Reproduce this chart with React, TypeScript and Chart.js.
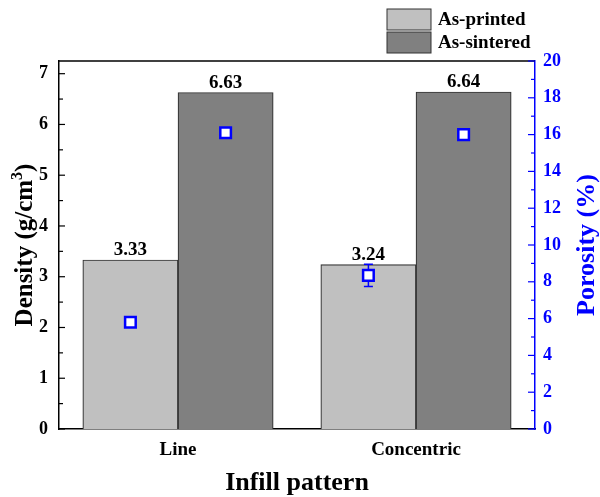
import React, { useEffect, useRef } from 'react';
import { Chart, registerables } from 'chart.js';

Chart.register(...registerables);

const FONT = "'Liberation Serif', 'Times New Roman', serif";
const BLUE = '#0000ff';

const CATEGORIES = ['Line', 'Concentric'];
const SERIES_LABELS = ['As-printed', 'As-sintered'];
const DENSITY_PRINTED = [3.33, 3.24];
const DENSITY_SINTERED = [6.63, 6.64];
const POROSITY_PRINTED = [5.8, 8.35];
const POROSITY_PRINTED_ERR = [0.15, 0.6];
const POROSITY_SINTERED = [16.1, 16.0];
const POROSITY_SINTERED_ERR = [0.15, 0.15];
const DENSITY_TICKS = [0, 1, 2, 3, 4, 5, 6, 7];
const POROSITY_TICKS = [0, 2, 4, 6, 8, 10, 12, 14, 16, 18, 20];

const BAR_COLORS = ['#c0c0c0', '#808080'];
const GROUP_WIDTH = 0.8; // share of a category slot taken by its bar group
const N_SERIES = 2;

// x position (in category units) of series j within category i
const slotX = (i: number, j: number) => i + (j - (N_SERIES - 1) / 2) * GROUP_WIDTH / N_SERIES;

const toPoints = (values: number[], j: number) => values.map((v, i) => ({ x: slotX(i, j), y: v }));

const ERRORS: Record<number, number[]> = { 2: POROSITY_PRINTED_ERR, 3: POROSITY_SINTERED_ERR };

const errorBars = {
  id: 'errorBars',
  beforeDatasetDraw(chart: any, args: any) {
    const errs = ERRORS[args.index];
    if (!errs) return;
    const ctx = chart.ctx;
    const y1 = chart.scales.y1;
    const meta = chart.getDatasetMeta(args.index);
    const ds = chart.data.datasets[args.index];
    ctx.save();
    ctx.strokeStyle = BLUE;
    ctx.lineWidth = 1.5;
    meta.data.forEach((pt: any, i: number) => {
      const v = ds.data[i].y;
      const top = y1.getPixelForValue(v + errs[i]);
      const bot = y1.getPixelForValue(v - errs[i]);
      ctx.beginPath();
      ctx.moveTo(pt.x, top);
      ctx.lineTo(pt.x, bot);
      ctx.moveTo(pt.x - 4.5, top);
      ctx.lineTo(pt.x + 4.5, top);
      ctx.moveTo(pt.x - 4.5, bot);
      ctx.lineTo(pt.x + 4.5, bot);
      ctx.stroke();
    });
    ctx.restore();
  },
};

const barLabels = {
  id: 'barLabels',
  afterDatasetsDraw(chart: any) {
    const ctx = chart.ctx;
    ctx.save();
    ctx.font = `bold 19px ${FONT}`;
    ctx.fillStyle = '#000';
    ctx.textAlign = 'center';
    ctx.textBaseline = 'bottom';
    [0, 1].forEach((di) => {
      const meta = chart.getDatasetMeta(di);
      const ds = chart.data.datasets[di];
      meta.data.forEach((bar: any, i: number) => {
        ctx.fillText(ds.data[i].y.toFixed(2), bar.x, bar.y);
      });
    });
    ctx.restore();
  },
};

const frame = {
  id: 'frame',
  afterDraw(chart: any) {
    const ctx = chart.ctx;
    const { left, right, top, bottom } = chart.chartArea;
    const y = chart.scales.y;
    const y1 = chart.scales.y1;
    ctx.save();

    // top border
    ctx.strokeStyle = '#000';
    ctx.lineWidth = 1.5;
    ctx.beginPath();
    ctx.moveTo(left, top);
    ctx.lineTo(right, top);
    ctx.stroke();

    // inward tick marks, majors and minors
    ctx.lineWidth = 1.2;
    for (let v = 0; v <= 7.001; v += 0.5) {
      const py = y.getPixelForValue(v);
      const len = Number.isInteger(v) ? 6 : 4;
      ctx.beginPath();
      ctx.moveTo(left, py);
      ctx.lineTo(left + len, py);
      ctx.stroke();
    }
    ctx.strokeStyle = BLUE;
    for (let v = 0; v <= 20; v += 1) {
      const py = y1.getPixelForValue(v);
      const len = v % 2 === 0 ? 7 : 4;
      ctx.beginPath();
      ctx.moveTo(right, py);
      ctx.lineTo(right - len, py);
      ctx.stroke();
    }

    const midY = (top + bottom) / 2;

    // x title
    ctx.fillStyle = '#000';
    ctx.font = `bold 26px ${FONT}`;
    ctx.textAlign = 'center';
    ctx.textBaseline = 'alphabetic';
    ctx.fillText('Infill pattern', (left + right) / 2, 490);

    // left title with superscript
    ctx.save();
    ctx.translate(32, midY);
    ctx.rotate(-Math.PI / 2);
    const big = `bold 25px ${FONT}`;
    const small = `bold 16px ${FONT}`;
    const a = 'Density (g/cm';
    const s = '3';
    const b = ')';
    ctx.font = big;
    const wa = ctx.measureText(a).width;
    const wb = ctx.measureText(b).width;
    ctx.font = small;
    const ws = ctx.measureText(s).width;
    const x0 = -(wa + ws + wb) / 2;
    ctx.textAlign = 'left';
    ctx.font = big;
    ctx.fillText(a, x0, 0);
    ctx.font = small;
    ctx.fillText(s, x0 + wa, -10);
    ctx.font = big;
    ctx.fillText(b, x0 + wa + ws, 0);
    ctx.restore();

    // right title
    ctx.save();
    ctx.translate(594, midY);
    ctx.rotate(-Math.PI / 2);
    ctx.fillStyle = BLUE;
    ctx.font = `bold 26px ${FONT}`;
    ctx.textAlign = 'center';
    ctx.fillText('Porosity (%)', 0, 0);
    ctx.restore();

    // legend
    ctx.font = `bold 19px ${FONT}`;
    ctx.textAlign = 'left';
    ctx.textBaseline = 'middle';
    SERIES_LABELS.forEach((label, i) => {
      const by = 9 + i * 23;
      ctx.fillStyle = BAR_COLORS[i];
      ctx.fillRect(387, by, 44, 21);
      ctx.strokeStyle = '#333';
      ctx.lineWidth = 1;
      ctx.strokeRect(387, by, 44, 21);
      ctx.fillStyle = '#000';
      ctx.fillText(label, 438, by + 11);
    });

    ctx.restore();
  },
};

const barDataset = (j: number, values: number[]) => ({
  type: 'bar',
  label: SERIES_LABELS[j],
  data: toPoints(values, j),
  backgroundColor: BAR_COLORS[j],
  borderColor: '#333',
  borderWidth: 1.2,
  grouped: false,
  categoryPercentage: 1,
  barPercentage: 1,
  yAxisID: 'y',
  order: 2,
});

const porosityDataset = (j: number, values: number[]) => ({
  type: 'scatter',
  label: `Porosity ${SERIES_LABELS[j]}`,
  data: toPoints(values, j),
  yAxisID: 'y1',
  pointStyle: 'rect',
  radius: 7.5,
  borderWidth: 2.5,
  borderColor: BLUE,
  backgroundColor: '#fff',
  order: 0,
});

export default function App() {
  const ref = useRef<HTMLCanvasElement>(null);

  useEffect(() => {
    const chart = new Chart(ref.current!, {
      type: 'bar',
      data: {
        datasets: [
          barDataset(0, DENSITY_PRINTED),
          barDataset(1, DENSITY_SINTERED),
          porosityDataset(0, POROSITY_PRINTED),
          porosityDataset(1, POROSITY_SINTERED),
        ] as any,
      },
      options: {
        responsive: false,
        animation: false,
        layout: { padding: { top: 61, left: 0, right: 0, bottom: 0 } },
        plugins: { legend: { display: false }, tooltip: { enabled: false } },
        scales: {
          x: {
            type: 'linear',
            min: -0.5,
            max: CATEGORIES.length - 0.5,
            offset: false,
            grid: { display: false, drawTicks: false, offset: false },
            border: { display: true, color: '#000', width: 1.5 },
            afterBuildTicks: (s: any) => { s.ticks = CATEGORIES.map((_, i) => ({ value: i })); },
            ticks: {
              color: '#000',
              padding: 10,
              font: { family: FONT, size: 19, weight: 'bold' },
              callback: (v: any) => CATEGORIES[Math.round(v)] ?? '',
            },
            afterFit: (s: any) => { s.height = 68; },
          },
          y: {
            position: 'left',
            min: 0,
            max: 7.25,
            grid: { display: false, drawTicks: false },
            border: { display: true, color: '#000', width: 1.5 },
            ticks: { color: '#000', padding: 11, font: { family: FONT, size: 18, weight: 'bold' } },
            afterBuildTicks: (s: any) => { s.ticks = DENSITY_TICKS.map((v) => ({ value: v })); },
            afterFit: (s: any) => { s.width = 59; },
          },
          y1: {
            position: 'right',
            min: 0,
            max: 20,
            grid: { display: false, drawTicks: false },
            border: { display: true, color: BLUE, width: 1.5 },
            ticks: { color: BLUE, padding: 8, font: { family: FONT, size: 18, weight: 'bold' } },
            afterBuildTicks: (s: any) => { s.ticks = POROSITY_TICKS.map((v) => ({ value: v })); },
            afterFit: (s: any) => { s.width = 65; },
          },
        } as any,
      },
      plugins: [errorBars, barLabels, frame],
    });
    return () => chart.destroy();
  }, []);

  return (
    <div style={{ position: 'absolute', left: 0, top: 0, width: 600, height: 497, background: '#fff' }}>
      <canvas ref={ref} width={600} height={497} style={{ display: 'block' }} />
    </div>
  );
}
